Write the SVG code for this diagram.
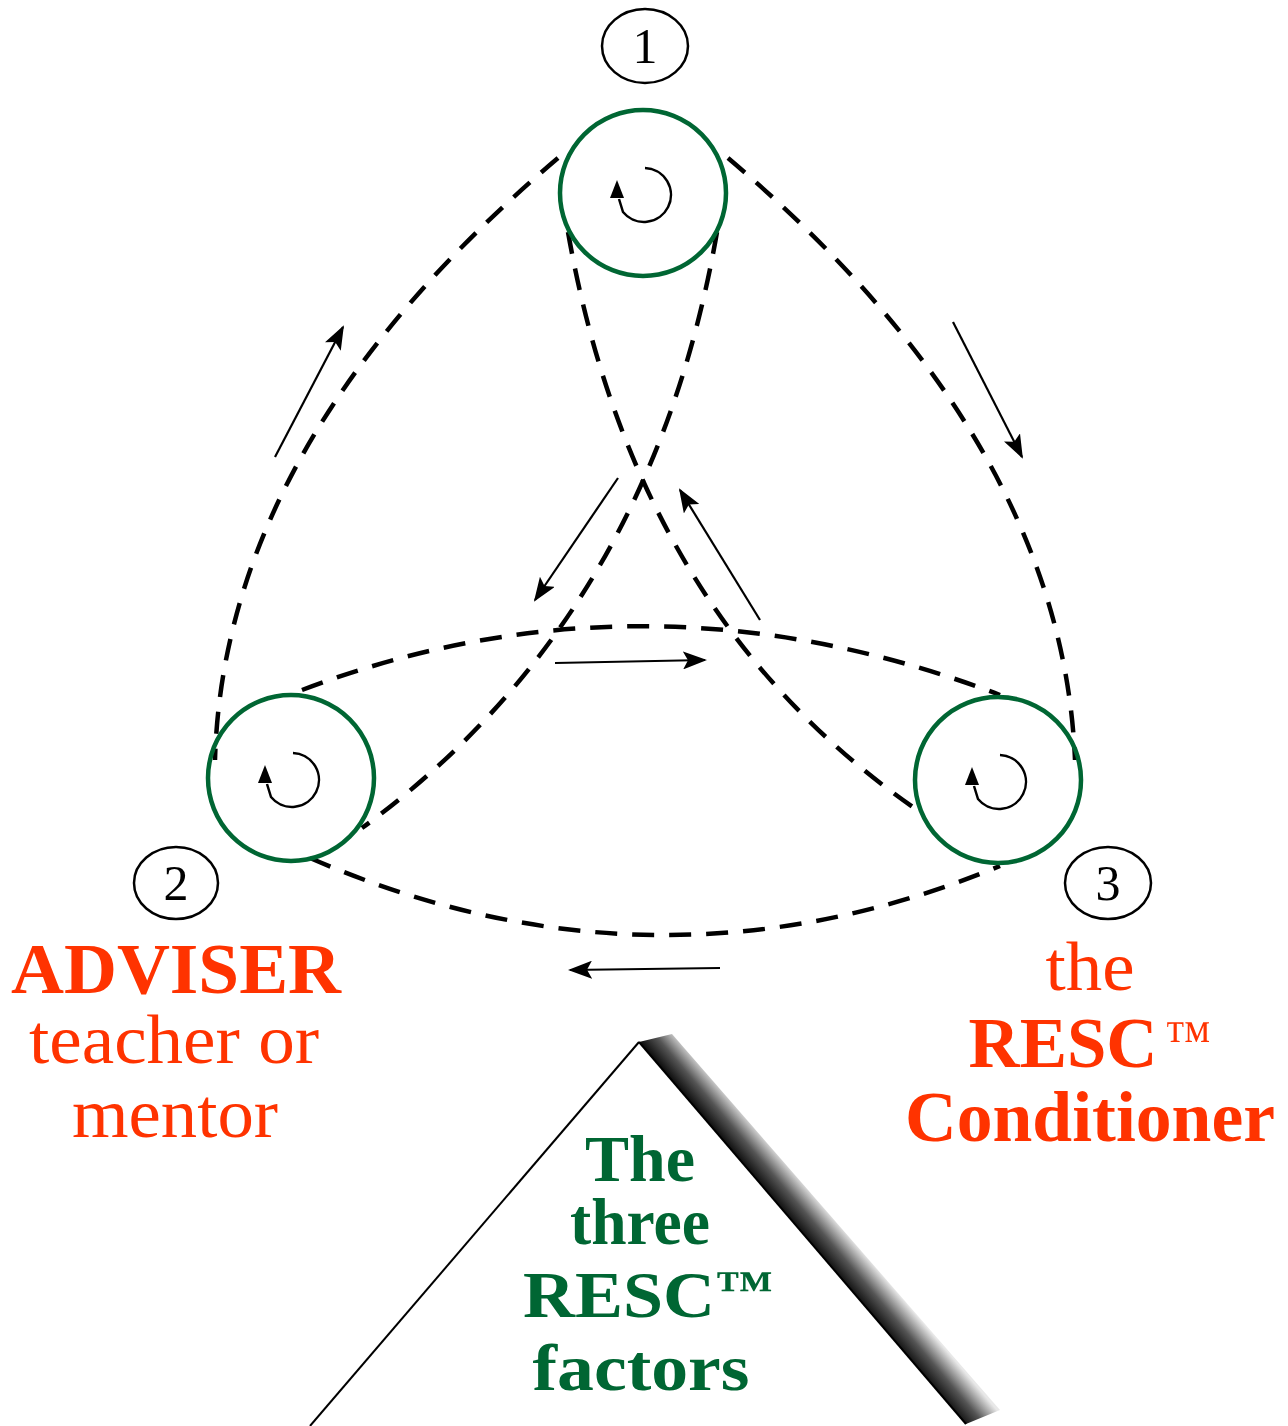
<svg xmlns="http://www.w3.org/2000/svg" width="1288" height="1426" viewBox="0 0 1288 1426">
<style>
.ring{fill:none;stroke:#006633;stroke-width:4.5}
.lbl{fill:none;stroke:#000;stroke-width:2.5}
.num{font-family:"Liberation Serif",serif;font-size:50px;fill:#000;text-anchor:middle}
.dash{fill:none;stroke:#000;stroke-width:4.5;stroke-dasharray:22 15}
.thin{fill:none;stroke:#000;stroke-width:2.2;marker-end:url(#ah)}
.red{font-family:"Liberation Serif",serif;fill:#ff3300;text-anchor:middle}
.grn{font-family:"Liberation Serif",serif;fill:#006633;text-anchor:middle;font-weight:bold}
.sp{fill:none;stroke:#000;stroke-width:2.5}
</style>
<defs>
<marker id="ah" viewBox="0 0 24 18" refX="22" refY="9" markerWidth="24" markerHeight="18" markerUnits="userSpaceOnUse" orient="auto">
<path d="M0,0 L24,9 L0,18 L5,9 Z" fill="#000"/>
</marker>
<g id="spiral">
<path class="sp" d="M2,-25 A27,27 0 1 1 -20,19 L-24,6"/>
<polygon points="-26,-13 -33,5 -19,5" fill="#000"/>
</g>
<linearGradient id="band" gradientUnits="userSpaceOnUse" x1="800" y1="1230" x2="826" y2="1208">
<stop offset="0" stop-color="#111"/>
<stop offset="0.45" stop-color="#555"/>
<stop offset="1" stop-color="#e8e8e8"/>
</linearGradient>
</defs>
<rect width="1288" height="1426" fill="#fff"/>

<g id="connectors">
<path class="dash" d="M558,158 Q224,441 215,760"/>
<path class="dash" d="M728,158 Q1062,441 1075,760"/>
<path class="dash" d="M302,690 Q645,560 1000,695"/>
<path class="dash" d="M310,858 Q655,1008 1000,866"/>
<path class="dash" d="M568,232 Q636,618 920,812"/>
<path class="dash" d="M717,232 Q650,618 362,828"/>
<path class="thin" d="M275,457 L343,327"/>
<path class="thin" d="M953,322 L1022,457"/>
<path class="thin" d="M618,478 L535,600"/>
<path class="thin" d="M760,620 L680,490"/>
<path class="thin" d="M555,663 L705,660"/>
<path class="thin" d="M720,968 L570,970"/>
</g>

<g id="node1">
<ellipse class="lbl" cx="645" cy="46" rx="43" ry="37"/>
<text class="num" x="645" y="63">1</text>
<circle class="ring" cx="643" cy="193" r="83"/>
<use href="#spiral" x="643" y="193"/>
</g>

<g id="node2">
<ellipse class="lbl" cx="176" cy="883" rx="42" ry="36"/>
<text class="num" x="176" y="900">2</text>
<circle class="ring" cx="291" cy="778" r="83"/>
<use href="#spiral" x="291" y="778"/>
<text class="red" x="176" y="993" font-size="72" font-weight="bold" textLength="330" lengthAdjust="spacingAndGlyphs">ADVISER</text>
<text class="red" x="174" y="1063" font-size="70" textLength="290" lengthAdjust="spacingAndGlyphs">teacher or</text>
<text class="red" x="175" y="1137" font-size="70" textLength="206" lengthAdjust="spacingAndGlyphs">mentor</text>
</g>

<g id="node3">
<ellipse class="lbl" cx="1108" cy="883" rx="43" ry="36"/>
<text class="num" x="1108" y="900">3</text>
<circle class="ring" cx="998" cy="780" r="83"/>
<use href="#spiral" x="998" y="780"/>
<text class="red" x="1090" y="990" font-size="70" textLength="89" lengthAdjust="spacingAndGlyphs">the</text>
<text class="red" x="1063" y="1067" font-size="72" font-weight="bold" textLength="189" lengthAdjust="spacingAndGlyphs">RESC</text>
<text class="red" x="1188" y="1055" font-size="50" textLength="46" lengthAdjust="spacingAndGlyphs">™</text>
<text class="red" x="1090" y="1141" font-size="72" font-weight="bold" textLength="370" lengthAdjust="spacingAndGlyphs">Conditioner</text>
</g>

<g id="factors">
<line x1="310" y1="1426" x2="639" y2="1042" stroke="#000" stroke-width="2"/>
<polygon points="639,1042 672,1034 1000,1410 966,1424" fill="url(#band)"/>
<line x1="639" y1="1042" x2="966" y2="1424" stroke="#000" stroke-width="2"/>
<text class="grn" x="640" y="1181" font-size="66" textLength="110" lengthAdjust="spacingAndGlyphs">The</text>
<text class="grn" x="640" y="1244" font-size="66" textLength="140" lengthAdjust="spacingAndGlyphs">three</text>
<text class="grn" x="619" y="1317" font-size="66" textLength="192" lengthAdjust="spacingAndGlyphs">RESC</text>
<text class="grn" x="744" y="1304" font-size="48" textLength="58" lengthAdjust="spacingAndGlyphs">™</text>
<text class="grn" x="641" y="1390" font-size="66" textLength="217" lengthAdjust="spacingAndGlyphs">factors</text>
</g>
</svg>
